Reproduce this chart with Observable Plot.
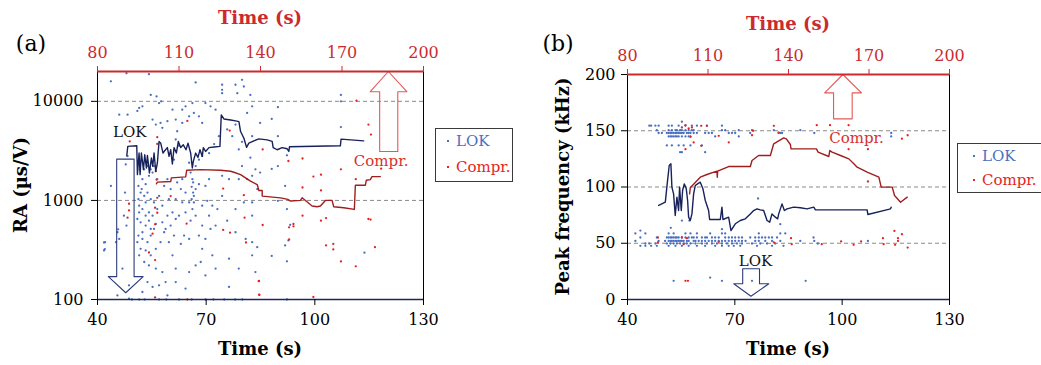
<!DOCTYPE html>
<html><head><meta charset="utf-8">
<script src="https://cdn.jsdelivr.net/npm/d3@7"></script>
<script src="https://cdn.jsdelivr.net/npm/@observablehq/plot@0.6"></script>
<style>
body{margin:0;background:#fff;}
#wrap{position:relative;width:1041px;height:365px;overflow:hidden;font-family:"DejaVu Serif",serif;background:#fff;}
.panel{position:absolute;top:0;}
.legend{position:absolute;border:1.5px solid #3a3a3a;background:#fff;box-sizing:border-box;}
.row{position:absolute;font-size:15px;line-height:18px;white-space:nowrap;}
.sq{position:absolute;width:2px;height:2px;top:8px;}
</style></head><body><div id="wrap"></div>
<script>
// ---------- data ----------
const xTicks = [40, 70, 100, 130];
const topTicks = [80, 110, 140, 170, 200];
const raTicks = [100, 1000, 10000];
const freqTicks = [0, 50, 100, 150, 200];
const raGrid = [1000, 10000];
const freqGrid = [50, 100, 150];

// Panel (a): RA of LOK hits [time, RA]
const lokA = [[43.7,15900],[48.0,19200],[54.2,18800],[54.7,11600],[56.3,11200],[57.0,9600],[57.6,10000],[51.5,8570],[52.4,8900],[51.0,8000],[46.0,7340],[48.3,7340],[55.2,6540],[56.1,5820],[57.4,6050],[57.9,5400],[59.3,6300],[60.7,8240],[61.6,6540],[62.0,4990],[61.6,4120],[63.4,8240],[64.3,8900],[67.1,15500],[66.2,9610],[66.6,7630],[68.0,7060],[68.9,6050],[69.8,9610],[71.2,8900],[72.6,8240],[74.4,14700],[74.4,13070],[74.4,12100],[78.1,14700],[78.6,12100],[79.9,16480],[80.4,14120],[82.2,11600],[82.7,8900],[81.3,7630],[78.1,5820],[77.2,4450],[79.0,3270],[79.9,3900],[82.7,4450],[82.2,2700],[83.6,2060],[82.7,1770],[81.3,1640],[74.4,1770],[76.3,1640],[70.8,1640],[69.8,1400],[68.0,1460],[67.1,1300],[66.6,1110],[65.3,955],[66.2,818],[67.1,701],[65.7,625],[68.9,557],[70.8,701],[71.2,515],[69.8,409],[68.0,442],[65.3,409],[63.9,442],[63.0,364],[61.6,649],[60.7,757],[59.7,1030],[57.9,884],[57.0,1110],[56.5,1640],[55.2,1910],[54.2,1770],[53.3,1460],[52.4,1640],[51.9,1200],[51.3,1030],[51.5,884],[52.4,818],[53.3,955],[54.2,757],[55.2,701],[56.1,578],[54.7,515],[53.3,557],[51.9,601],[51.0,649],[51.3,442],[52.4,409],[53.8,379],[51.9,325],[51.5,279],[52.9,239],[54.2,221],[56.1,205],[57.9,189],[58.8,150],[57.0,139],[55.2,134],[53.8,150],[52.4,119],[48.7,102],[76.3,134],[79.0,205],[76.3,258],[71.7,279],[68.9,325],[67.1,221],[65.3,189],[61.6,205],[60.7,279],[59.7,379],[58.4,477],[57.9,601],[59.3,701],[62.5,701],[64.3,757],[63.4,955],[61.6,1030],[74.4,1110],[78.1,818],[80.4,955],[82.7,955],[82.7,701],[72.6,557],[75.8,625],[78.1,477],[80.9,409],[82.7,379],[84.1,337],[82.7,279],[83.6,189],[84.1,1300],[79.9,2220],[79.0,1640],[48.3,2800],[47.8,2310],[47.6,1200],[48.0,557],[47.3,701],[45.5,477],[46.0,409],[45.1,379],[43.7,1400],[42.1,379],[41.8,313],[46.9,205],[45.5,110],[48.7,139],
[51.3,1400],[51.7,2060],[52.9,2060],[53.8,2220],[54.7,2060],[55.6,2220],[52.2,1300],[52.9,1110],[53.8,1200],[54.7,1030],[55.6,955],[56.5,818],[51.5,757],[53.3,701],[54.2,625],[55.6,515],[52.4,477],[54.7,442],[51.0,379],[53.3,313],[54.7,279],[56.1,325],[57.4,379],[58.8,515],[60.2,557],[61.1,442],[66.2,1640],[66.4,1520],[66.0,1370],[66.4,1200],[66.0,1030],[66.6,955],[65.7,1910],[65.3,2400],[67.1,2220],[68.0,2580],[68.9,2800],[70.8,3000],[72.2,3700],[73.5,4450],[75.8,5200],[63.4,6050],[65.3,7060],[62.5,3560],[61.1,2580],[59.3,1640],[58.4,1400],[60.2,1300],[62.0,1520],[63.0,1300],[64.3,1200],[63.4,1640],[68.9,884],[70.3,990],[71.7,884],[73.1,818],[68.5,239],[72.6,205],[69.8,175],[61.6,150],[64.3,129],[59.3,110],
[49.5,100],[51.5,100],[53.0,100],[57.0,100],[59.0,100],[62.5,100],[66.0,100],[69.8,100],[72.0,100],[75.0,100],[78.0,100],[80.0,100],[92.3,100],
[84.9,6050],[88.1,6650],[89.8,8720],[89.8,4450],[84.9,1910],[88.1,2080],[89.8,2220],[92.3,2850],[91.8,1400],[89.8,990],[92.3,818],[93.2,567],[92.7,395],[91.8,351],[88.1,275],[92.3,243],[107.2,11600],[107.2,10000],[107.2,5500],[113.7,297],[41.8,376],[42.0,322],[45.7,511]];

// Panel (a): RA of compression hits [time, RA]
const comprA = [[48.9,3940],[56.5,4350],[56.5,3720],[64.8,6340],[76.5,5070],[56.1,1970],[56.3,1620],[60.2,1105],[56.5,1062],[48.7,925],[48.7,793],[48.3,670],[55.9,843],[56.5,751],[55.9,574],[55.2,462],[64.6,583],[74.7,1318],[80.4,1130],[74.7,504],[76.6,473],[80.6,670],[81.0,376],[54.2,298],[55.9,250],[55.9,105],[64.8,100],[84.5,153],[84.7,111],[85.6,3270],[92.7,2500],[96.6,2650],[107.2,2060],[99.6,1740],[101.7,1820],[96.6,1350],[101.7,1260],[111.3,1640],[111.5,10150],[114.8,5820],[115.5,4620],[118.3,2090],[85.6,565],[92.9,535],[94.1,578],[94.1,548],[96.6,701],[101.7,625],[103.1,664],[92.9,403],[103.1,351],[105.1,364],[105.1,320],[107.2,242],[111.3,216],[114.8,649],[115.4,640],[116.6,337],[84.6,154],[84.6,112],[99.6,106]];

// Panel (a): moving-average lines [time, RA]
const lokLineA = [[48.08,2826],[48.36,3510],[50.84,3565],[51.02,1820],[51.48,3006],[51.76,1820],[52.12,3006],[52.68,2047],[53.04,2891],[53.5,2123],[53.78,2845],[54.33,1893],[54.88,2678],[55.25,2210],[55.62,3006],[56.07,1968],[56.53,2385],[56.99,3937],[57.45,3785],[58.09,3006],[58.55,3170],[59.29,3413],[59.75,2781],[60.21,3245],[60.67,2330],[61.13,3413],[61.77,3006],[62.32,3937],[62.96,3413],[63.7,3641],[64.43,3245],[64.98,3785],[65.72,3006],[66.18,2123],[66.45,2477],[67.1,3006],[67.74,2718],[68.29,3245],[68.93,2781],[69.21,3413],[69.85,3120],[70.77,3413],[72.15,3460],[73.8,3510],[74.17,7280],[74.9,6637],[76.74,6487],[78.12,6340],[79.04,6240],[79.5,4955],[80.42,4245],[81.15,3430],[81.79,3785],[83.17,3990],[84.55,4180],[86.84,4085],[88.22,3937],[88.5,3413],[89.6,3245],[90.98,3413],[92.36,3320],[92.82,3120],[93.0,3475],[107.05,3556],[107.24,4150],[113.48,3990]];
const comprLineA = [[56.26,1469],[56.53,1528],[60.21,1550],[60.39,1687],[64.34,1726],[64.62,2015],[68.47,2047],[73.99,2015],[76.74,1968],[77.66,1923],[79.5,1820],[80.87,1687],[82.25,1563],[84.09,1447],[84.55,1259],[85.47,1259],[85.47,1105],[90.52,1062],[92.54,1023],[93.27,985],[96.03,1000],[96.49,1062],[99.24,877],[100.62,864],[101.54,877],[102.92,1000],[104.76,1000],[105.22,864],[107.97,844],[110.91,811],[111.19,1422],[113.94,1422],[114.22,1600],[115.32,1622],[115.78,1737],[118.08,1737]];

// Panel (b): peak frequency of LOK hits, rows [kHz, times...]
const lokB_rows = [
  [158, [55.2]],
  [154.5, [46.1,46.6,47.8,48.7,51.5,52.4,54.3,56.2,58.0,59.4,62.2,66.4]],
  [150.5, [48.2,51.5,52.4,53.4,53.8,54.7,55.2,56.2,57.1,58.0,58.5,66.4,67.3,71.1,74.8,80.9,88.3]],
  [148, [48.7,49.6,51.0,51.5,52.0,52.4,52.9,53.4,53.8,54.3,54.7,55.2,55.7,56.6,57.1,57.6,58.5,59.4,61.7,62.7,63.6,68.3,69.2,70.1,74.3,82.2,82.7,83.2,92.2,113.7]],
  [145, [51.5,52.0,52.4,52.9,53.4,53.8,54.3,55.2,56.2,57.1,57.6,64.5,71.1,113.7]],
  [137, [51.0,52.4,54.3,55.7,57.6,60.8]],
  [131, [54.7,55.2,61.7]],
  [58.7, [42.2,45.0,51.5,52.9,56.2,57.6,59.4,63.1,66.4,67.3,76.7,82.7,84.1]],
  [55.1, [43.6,48.2,51.0,51.5,52.0,52.4,52.9,53.4,53.8,54.3,55.2,56.2,57.1,58.0,58.5,59.4,60.8,61.7,62.2,63.6,64.5,65.5,67.3,68.3,69.2,70.1,71.1,72.0,74.3,75.7,76.7,77.6,78.5,79.5,80.4,81.8,92.0]],
  [52.1, [42.2,48.7,50.5,51.5,52.0,52.4,52.9,53.4,53.8,54.3,54.7,55.2,55.7,56.6,57.1,58.5,59.0,59.9,60.8,61.7,62.7,63.6,64.5,65.5,66.4,67.3,68.3,69.2,70.1,71.1,72.0,73.0,75.7,76.7,78.5,80.4,82.7,88.3,92.2,107.2]],
  [49.8, [45.0,46.1,47.8,51.0,52.0,52.9,53.8,54.7,55.7,56.6,57.6,59.0,60.8,62.2,63.6,65.0,66.4,67.8,69.2,70.6,72.0,74.8,77.1,79.0,81.3,93.2]],
  [47.7, [43.6,45.0,46.6,48.2,51.5,53.4,55.2,57.1,59.4,61.7,64.5,66.4,68.3,69.7,71.5,76.2,80.4,83.6]],
  [16.6, [52.9,66.4,74.8,89.8]]
];
const lokB_extra = [[52.1,63.7],[55.2,70.2],[57.3,70.2],[66.4,62.5],[82.7,67],[76.5,89.8],[63.1,19.5],[43.6,61.3]];

// Panel (b): peak frequency of compression hits [time, kHz]
const comprB = [[56.2,155],[57.1,152],[55.2,153],[58.0,153],[60.6,154.4],[62.2,154.4],[57.6,144.6],[60.6,136.6],[56.2,133.6],[65.5,145.5],[68.3,139.6],[74.8,146],[75.1,150],[80.9,154.4],[82.3,148.4],[58.5,139.6],[92.9,155],[96.6,155],[101.8,155],[101.8,133.6],[107.2,133.6],[116.7,143],[118.3,146],[107.2,104.9],[48.5,55.1],[48.5,50.7],[55.2,55.1],[56.6,54.5],[55.7,49.2],[65.5,51.3],[80.9,50.7],[56.2,16.6],[56.9,16.6],[85.7,54.5],[85.9,49.2],[94.3,49.2],[99.7,51.6],[103.2,48.6],[105.3,51.6],[111.4,54.5],[111.6,49.2],[114.6,61],[115.6,54.5],[114.8,48.6],[116.7,58],[118.3,46.2],[115.6,52.1]];

// Panel (b): moving-average lines [time, kHz]
const lokLineB = [[48.71,83.6],[50.57,86.5],[51.0,99.9],[51.66,119.1],[52.13,120.6],[52.41,99.9],[52.88,93.9],[53.34,74.7],[53.81,91.0],[54.28,79.1],[54.56,99.9],[55.03,79.1],[55.4,96.9],[55.87,102.8],[56.43,98.4],[56.8,88.0],[57.08,73.2],[57.54,70.2],[58.01,76.1],[58.48,93.9],[58.94,101.3],[59.59,102.8],[60.34,104.3],[61.09,98.4],[61.74,88.0],[62.67,79.1],[62.95,71.1],[65.94,71.1],[66.4,82.1],[66.68,71.1],[68.27,73.2],[68.92,61.3],[70.13,67.3],[71.53,70.2],[72.93,71.7],[74.33,76.1],[75.26,79.1],[76.2,80.6],[77.13,79.7],[78.06,79.1],[79.0,70.2],[79.74,68.7],[80.39,76.1],[81.33,73.2],[81.98,71.7],[82.26,76.1],[83.19,85.0],[83.85,79.1],[84.59,80.6],[86.46,82.1],[88.33,81.5],[90.19,80.6],[92.06,82.1],[92.53,79.7],[106.99,79.7],[107.17,75.6],[113.52,80.6],[113.7,82.1]];
const comprLineB = [[57.36,93.9],[57.54,99.3],[60.34,108.7],[62.2,111.1],[65.0,114.1],[65.1,108.7],[65.2,114.1],[68.27,118.2],[74.33,118.2],[74.8,123.6],[76.66,128.0],[79.93,128.0],[80.86,138.4],[83.66,143.7],[84.4,142.8],[85.52,137.8],[85.71,133.9],[92.81,133.9],[93.28,131.0],[96.26,127.1],[96.54,132.4],[97.2,131.0],[99.53,128.0],[101.86,125.0],[103.26,120.6],[104.19,117.6],[106.99,113.2],[110.26,108.7],[110.91,99.9],[113.99,99.9],[114.64,92.4],[116.32,86.5],[118.19,91.0]];

// Annotation arrows (outline polygons, data units) and labels
const arrowLokA = [[45.3,2610],[50.1,2610],[50.1,170],[52.6,170],[47.8,117],[43.0,170],[45.3,170],[45.3,2610]];
const arrowComprA = [[117.9,3120],[122.9,3120],[122.9,12500],[125.4,12500],[120.3,20000],[115.3,12500],[117.9,12500],[117.9,3120]];
const arrowComprB = [[97.6,160.6],[102.8,160.6],[102.8,183.7],[105.4,183.7],[100.2,200],[95.1,183.7],[97.6,183.7],[97.6,160.6]];
const arrowLokB = [[72.2,27.3],[76.9,27.3],[76.9,14],[79.5,14],[74.5,2.9],[69.7,14],[72.2,14],[72.2,27.3]];
const labelLokA = [[48.9, 4840]], labelComprA = [[118.3, 2477]];
const labelLokB = [[75.8, 34.0]], labelComprB = [[104.0, 143.1]];

// ---------- drawing ----------
const BLUE = "#4a6fc2", RED = "#e52421", NAVY = "#18225a", DRED = "#a01e1e";
const AXRED = "#cc2a2e", TXTRED = "#d7302f", ARNAVY = "#2c3c7a", ARRED = "#e25a58";
const FONT = '"DejaVu Serif", serif';
const toBottom = t => 40 + (t - 80) * (130 - 40) / (200 - 80);
const fromBottom = x => Math.round(80 + (x - 40) * (200 - 80) / (130 - 40));
const X = d => d[0], Y = d => d[1];

function panel(c) {
  const chart = Plot.plot({
    width: c.width, height: 365,
    marginLeft: c.ml, marginRight: c.mr, marginTop: c.mt, marginBottom: 66,
    style: {fontFamily: FONT, fontSize: "16px", background: "transparent", color: "#000", overflow: "visible"},
    x: {domain: [40, 130]},
    y: c.y,
    marks: [
      Plot.ruleY(c.grid, {stroke: "#8a8a8a", strokeDasharray: "4,3", strokeWidth: 1}),
      Plot.dot(c.lok, {x: X, y: Y, r: 1.15, fill: BLUE}),
      Plot.dot(c.compr, {x: X, y: Y, r: 1.15, fill: RED}),
      Plot.line(c.lokLine, {x: X, y: Y, stroke: NAVY, strokeWidth: 1.4}),
      Plot.line(c.comprLine, {x: X, y: Y, stroke: DRED, strokeWidth: 1.4}),
      Plot.line(c.arrowLok, {x: X, y: Y, stroke: ARNAVY, strokeWidth: 1.1, fill: "none"}),
      Plot.line(c.arrowCompr, {x: X, y: Y, stroke: ARRED, strokeWidth: 1.1, fill: "none"}),
      Plot.text(c.labelLok, {x: X, y: Y, text: () => "LOK", fill: "#111", fontSize: 15}),
      Plot.text(c.labelCompr, {x: X, y: Y, text: () => "Compr.", fill: TXTRED, fontSize: 15}),
      Plot.ruleX([40], {stroke: "#000"}),
      Plot.ruleX([130], {stroke: "#000"}),
      Plot.ruleY([c.ymin], {stroke: "#1c2858", strokeWidth: 1.3}),
      Plot.ruleY([c.ymax], {stroke: AXRED, strokeWidth: 2}),
      Plot.axisX(xTicks, {anchor: "bottom", tickSize: 6, tickPadding: 8, label: null, fontSize: 16}),
      Plot.axisX(topTicks.map(toBottom), {anchor: "top", tickSize: 6, tickPadding: 8, label: null, fontSize: 16, color: AXRED, tickFormat: fromBottom}),
      Plot.axisY(c.yticks, {anchor: "left", tickSize: 6, tickPadding: c.ypad, label: null, fontSize: 16, tickFormat: d => String(d)})
    ]
  });
  const svg = d3.select(chart);
  const cx = (c.ml + c.width - c.mr) / 2;
  svg.append("text").attr("x", cx).attr("y", c.topTitleY).attr("text-anchor", "middle")
    .attr("font-weight", "bold").attr("font-size", 18).attr("fill", AXRED).text("Time (s)");
  svg.append("text").attr("x", cx).attr("y", 355).attr("text-anchor", "middle")
    .attr("font-weight", "bold").attr("font-size", 18).attr("fill", "#000").text("Time (s)");
  svg.append("text").attr("transform", `translate(${c.ytx},${(c.mt + 299) / 2}) rotate(-90)`).attr("text-anchor", "middle")
    .attr("font-weight", "bold").attr("font-size", 18).attr("fill", "#000").text(c.ytitle);
  svg.append("text").attr("x", c.tagX).attr("y", 51).attr("font-size", 22).attr("fill", "#000").text(c.tag);
  chart.classList.add("panel");
  chart.style.left = c.left + "px";
  return chart;
}

const lokB = lokB_rows.flatMap(([f, ts]) => ts.map(t => [t, f])).concat(lokB_extra);

const wrap = document.getElementById("wrap");
wrap.appendChild(panel({
  left: 0, width: 520, ml: 97, mr: 97, mt: 71,
  y: {type: "log", domain: [100, 20000]}, ymin: 100, ymax: 20000, yticks: raTicks, grid: raGrid, ypad: 8,
  lok: lokA, compr: comprA, lokLine: lokLineA, comprLine: comprLineA,
  arrowLok: arrowLokA, arrowCompr: arrowComprA, labelLok: labelLokA, labelCompr: labelComprA,
  topTitleY: 24, ytx: 27, ytitle: "RA (µs/V)", tag: "(a)", tagX: 31
}));
wrap.appendChild(panel({
  left: 520, width: 521, ml: 107, mr: 92, mt: 74,
  y: {domain: [0, 200]}, ymin: 0, ymax: 200, yticks: freqTicks, grid: freqGrid, ypad: 6,
  lok: lokB, compr: comprB, lokLine: lokLineB, comprLine: comprLineB,
  arrowLok: arrowLokB, arrowCompr: arrowComprB, labelLok: labelLokB, labelCompr: labelComprB,
  topTitleY: 30, ytx: 49, ytitle: "Peak frequency (kHz)", tag: "(b)", tagX: 38
}));

// legends
function legend(left, top, width, height, dotX, textX, rowY) {
  const div = document.createElement("div");
  div.className = "legend";
  Object.assign(div.style, {left: left + "px", top: top + "px", width: width + "px", height: height + "px"});
  [["LOK", BLUE], ["Compr.", RED]].forEach(([name, col], i) => {
    const r = document.createElement("div");
    r.className = "row";
    Object.assign(r.style, {left: textX + "px", top: (rowY[i] - 9) + "px", color: col});
    r.textContent = name;
    const sq = document.createElement("span");
    sq.className = "sq";
    Object.assign(sq.style, {left: (dotX - textX) + "px", background: col});
    r.appendChild(sq);
    div.appendChild(r);
  });
  wrap.appendChild(div);
}
legend(435, 128, 78, 54, 11, 20, [12, 38]);
legend(957, 143, 110, 50, 15, 24, [12, 36]);
</script></body></html>
